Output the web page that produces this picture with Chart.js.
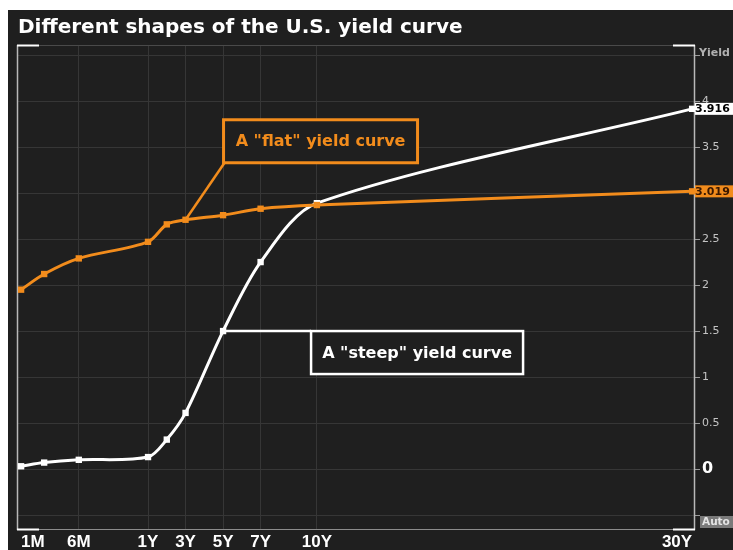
<!DOCTYPE html>
<html><head><meta charset="utf-8">
<script src="https://cdn.jsdelivr.net/npm/chart.js@4/dist/chart.umd.min.js"></script>
<style>html,body{margin:0;padding:0;background:#fff;} canvas{display:block;}</style>
</head><body>
<canvas id="c" width="733" height="550"></canvas>
<script>
// ---- data ----
const chartTitle = 'Different shapes of the U.S. yield curve';
const maturitiesMonths = [1, 3, 6, 12, 24, 36, 60, 84, 120, 360];
const flatCurve  = [1.95, 2.12, 2.29, 2.47, 2.66, 2.71, 2.76, 2.83, 2.87, 3.019];
const steepCurve = [0.03, 0.07, 0.10, 0.13, 0.32, 0.61, 1.50, 2.25, 2.89, 3.916];
const seriesNames = ['A "flat" yield curve', 'A "steep" yield curve'];
const tickMonths = [1, 6, 12, 36, 60, 84, 120, 360];
const tickLabels = ['1M', '6M', '1Y', '3Y', '5Y', '7Y', '10Y', '30Y'];
const yTicks = [-0.5, 0, 0.5, 1, 1.5, 2, 2.5, 3, 3.5, 4, 4.5];
const yTickLabels = ['', '0', '0.5', '1', '1.5', '2', '2.5', '3', '3.5', '4', ''];

// ---- styles ----
const ORANGE = '#f28c1c';
const WHITE = '#ffffff';
const BG = '#1f1f1f';
const GRID = '#363636';

// Bloomberg-style maturity axis: months stretched below 1Y, linear in years beyond
function axisPos(m) { return m <= 12 ? (m - 12) * 0.615 : (m - 12) / 12; }

function callout(ctx, anchor, box, text, color, lw, horizontal) {
  ctx.save();
  ctx.strokeStyle = color;
  ctx.lineWidth = 2.5;
  ctx.beginPath();
  ctx.moveTo(anchor.x, anchor.y);
  if (horizontal) ctx.lineTo(box.x, anchor.y);
  else ctx.lineTo(box.x + 1, box.y + box.h);
  ctx.stroke();
  ctx.fillStyle = BG;
  ctx.fillRect(box.x, box.y, box.w, box.h);
  ctx.lineWidth = lw;
  ctx.strokeRect(box.x, box.y, box.w, box.h);
  ctx.fillStyle = color;
  ctx.font = 'bold 16px "DejaVu Sans"';
  ctx.textAlign = 'center';
  ctx.textBaseline = 'middle';
  ctx.fillText(text, box.x + box.w / 2, box.y + box.h / 2 + 1);
  ctx.restore();
}

const decor = {
  id: 'decor',
  beforeDraw(chart) {
    const ctx = chart.ctx;
    ctx.save();
    ctx.fillStyle = '#ffffff';
    ctx.fillRect(0, 0, chart.width, chart.height);
    ctx.fillStyle = BG;
    ctx.fillRect(8, 10, chart.width - 8, chart.height - 10);
    ctx.restore();
  },
  beforeDatasetsDraw(chart) {
    const ctx = chart.ctx, ca = chart.chartArea;
    ctx.save();
    ctx.lineWidth = 1;
    ctx.strokeStyle = '#4a4a4a';
    ctx.beginPath(); ctx.moveTo(ca.left, ca.top + 0.5); ctx.lineTo(ca.right, ca.top + 0.5); ctx.stroke();
    ctx.strokeStyle = '#8c8c8c';
    ctx.beginPath(); ctx.moveTo(ca.left, ca.bottom + 0.5); ctx.lineTo(ca.right, ca.bottom + 0.5); ctx.stroke();
    ctx.strokeStyle = '#b8b8b8';
    ctx.lineWidth = 1.5;
    ctx.beginPath(); ctx.moveTo(ca.left - 0.5, ca.top); ctx.lineTo(ca.left - 0.5, ca.bottom + 1); ctx.stroke();
    ctx.beginPath(); ctx.moveTo(ca.right + 0.5, ca.top); ctx.lineTo(ca.right + 0.5, ca.bottom + 1); ctx.stroke();
    ctx.strokeStyle = '#ffffff';
    ctx.lineWidth = 2;
    const L = 22;
    [[ca.left - 1, ca.top + 0.5, 1], [ca.right + 1, ca.top + 0.5, -1],
     [ca.left - 1, ca.bottom + 0.5, 1], [ca.right + 1, ca.bottom + 0.5, -1]].forEach(([x, y, d]) => {
      ctx.beginPath(); ctx.moveTo(x, y); ctx.lineTo(x + d * L, y); ctx.stroke();
    });
    ctx.restore();
  },
  afterDatasetsDraw(chart) {
    const ctx = chart.ctx;
    const a1 = chart.getDatasetMeta(0).data[5]; // flat curve, 3Y
    const a2 = chart.getDatasetMeta(1).data[6]; // steep curve, 5Y
    callout(ctx, a1, {x: a1.x + 38, y: a1.y - 100, w: 194, h: 43}, seriesNames[0], ORANGE, 3, false);
    callout(ctx, a2, {x: a2.x + 88, y: a2.y, w: 212, h: 43}, seriesNames[1], WHITE, 2.5, true);
  },
  afterDraw(chart) {
    const ctx = chart.ctx, ys = chart.scales.y, ca = chart.chartArea;
    ctx.save();
    ctx.textBaseline = 'middle';
    ctx.textAlign = 'left';
    // axis caption
    ctx.font = 'bold 11px "DejaVu Sans"';
    ctx.fillStyle = '#b0b0b0';
    ctx.fillText('Yield', ca.right + 5, ca.top + 8);
    // last value boxes
    const boxes = [[flatCurve[flatCurve.length - 1], ORANGE, '#3a1800'],
                   [steepCurve[steepCurve.length - 1], WHITE, '#000000']];
    boxes.forEach(([v, bg, fg]) => {
      const y = ys.getPixelForValue(v);
      ctx.fillStyle = bg;
      ctx.fillRect(ca.right + 1, y - 6, chart.width - ca.right - 1, 12);
      ctx.fillStyle = fg;
      ctx.font = 'bold 11px "DejaVu Sans"';
      ctx.fillText(v.toFixed(3), ca.right + 1, y + 0.5);
    });
    // Auto box
    ctx.fillStyle = '#7a7a7a';
    ctx.fillRect(ca.right + 6, ca.bottom - 13, chart.width - ca.right - 6, 12);
    ctx.fillStyle = '#e4e4e4';
    ctx.font = 'bold 10.5px "DejaVu Sans"';
    ctx.fillText('Auto', ca.right + 8, ca.bottom - 7);
    ctx.restore();
  }
};

new Chart(document.getElementById('c'), {
  type: 'line',
  data: {
    datasets: [
      {
        label: seriesNames[0],
        data: maturitiesMonths.map((m, i) => ({x: axisPos(m), y: flatCurve[i]})),
        borderColor: ORANGE, backgroundColor: ORANGE,
        borderWidth: 3, pointStyle: 'rect', pointRadius: 4.5, pointBorderWidth: 0,
        tension: 0.3, clip: false
      },
      {
        label: seriesNames[1],
        data: maturitiesMonths.map((m, i) => ({x: axisPos(m), y: steepCurve[i]})),
        borderColor: WHITE, backgroundColor: WHITE,
        borderWidth: 3, pointStyle: 'rect', pointRadius: 4.5, pointBorderWidth: 0,
        tension: 0.3, clip: false
      }
    ]
  },
  options: {
    responsive: false,
    animation: false,
    layout: {padding: {left: 18, right: 0, top: 0, bottom: 0}},
    plugins: {
      legend: {display: false},
      tooltip: {enabled: false},
      title: {
        display: true, text: chartTitle, align: 'start', color: '#ffffff',
        font: {family: 'DejaVu Sans', weight: 'bold', size: 20},
        padding: {top: 16, bottom: 5}
      }
    },
    scales: {
      x: {
        type: 'linear', min: -6.93, max: 29.1,
        afterBuildTicks: s => { s.ticks = tickMonths.map(m => ({value: axisPos(m)})); },
        ticks: {
          autoSkip: false, maxRotation: 0, align: 'inner', padding: 3, color: '#ffffff',
          font: {family: 'Liberation Sans', weight: 'bold', size: 17},
          callback: (v, i) => tickLabels[i]
        },
        grid: {
          drawTicks: false, lineWidth: 1,
          color: c => (c.index === 0 || c.index === tickMonths.length - 1) ? 'rgba(0,0,0,0)' : GRID
        },
        border: {display: false},
        afterFit: s => { s.height = 21; }
      },
      y: {
        type: 'linear', position: 'right', min: -0.652, max: 4.61,
        afterBuildTicks: s => { s.ticks = yTicks.map(v => ({value: v})); },
        ticks: {
          padding: 2,
          color: c => c.tick && c.tick.value === 0 ? '#ffffff' : '#c4c4c4',
          font: c => (c.tick && c.tick.value === 0)
            ? {family: 'DejaVu Sans', weight: 'bold', size: 16}
            : {family: 'DejaVu Sans', size: 11},
          callback: (v, i) => yTickLabels[i]
        },
        grid: {color: GRID, tickColor: '#9a9a9a', tickLength: 6, lineWidth: 1},
        border: {display: false},
        afterFit: s => { s.height; s.width = 39; }
      }
    }
  },
  plugins: [decor]
});
</script>
</body></html>
